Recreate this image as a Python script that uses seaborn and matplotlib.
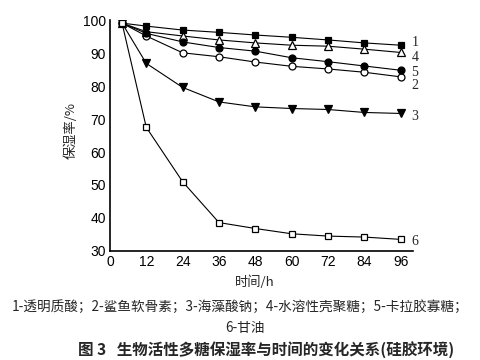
import matplotlib
matplotlib.use("Agg")
import matplotlib.pyplot as plt
import seaborn as sns
import pandas as pd

sns.set_theme(style="white")
plt.rcParams['font.family'] = ['Liberation Sans Narrow', 'Liberation Sans', 'Noto Sans CJK SC', 'DejaVu Sans']

hours = [4, 12, 24, 36, 48, 60, 72, 84, 96]
s1 = [99.1, 98.2, 97.0, 96.3, 95.5, 94.8, 94.0, 93.1, 92.4]
s2 = [99.1, 95.2, 90.1, 88.9, 87.3, 86.0, 85.2, 84.2, 82.8]
s3 = [99.1, 86.9, 79.6, 75.2, 73.7, 73.2, 72.9, 72.0, 71.7]
s4 = [99.1, 96.5, 95.2, 94.0, 93.1, 92.4, 92.1, 91.2, 90.2]
s5 = [99.1, 96.0, 93.4, 91.7, 90.6, 88.6, 87.4, 86.1, 84.8]
s6 = [99.1, 67.5, 51.0, 38.6, 36.8, 35.2, 34.5, 34.2, 33.5]
series_ids = ["1", "2", "3", "4", "5", "6"]
series_vals = [s1, s2, s3, s4, s5, s6]
end_label_y = [93.3, 80.3, 70.8, 88.8, 84.2, 33.0]
xticks = [0, 12, 24, 36, 48, 60, 72, 84, 96]
yticks = [30, 40, 50, 60, 70, 80, 90, 100]
legend_line1 = "1-透明质酸；2-鲨鱼软骨素；3-海藻酸钠；4-水溶性壳聚糖；5-卡拉胶寡糖；"
legend_line2 = "6-甘油"
caption = "图 3   生物活性多糖保湿率与时间的变化关系(硅胶环境)"
xlabel = "时间/h"
ylabel = "保湿率/%"

styles = {
    "1": dict(marker="s", mfc="black", ms=4.5),
    "2": dict(marker="o", mfc="white", ms=5),
    "3": dict(marker="v", mfc="black", ms=6),
    "4": dict(marker="^", mfc="white", ms=5.5),
    "5": dict(marker="o", mfc="black", ms=5),
    "6": dict(marker="s", mfc="white", ms=4),
}

fig = plt.figure(figsize=(4.8, 3.6), dpi=100)
ax = fig.add_axes([0.229, 0.303, 0.631, 0.641])

for sid, vals in zip(series_ids, series_vals):
    df = pd.DataFrame({"t": hours, "v": vals})
    st = styles[sid]
    sns.lineplot(data=df, x="t", y="v", ax=ax, color="black", linewidth=0.8,
                 marker=st["marker"], markersize=st["ms"], markerfacecolor=st["mfc"],
                 markeredgecolor="black", markeredgewidth=0.9)

for sid, ly in zip(series_ids, end_label_y):
    ax.text(99.5, ly, sid, fontsize=10, va="center", ha="left",
            family=['Liberation Serif', 'DejaVu Serif'], clip_on=False)

ax.set_xlim(0, 100)
ax.set_ylim(30, 100)
ax.set_xticks(xticks)
ax.set_yticks(yticks)
ax.tick_params(direction="in", length=4, width=1, labelsize=10, colors="black", pad=3)
for s in ["top", "right"]:
    ax.spines[s].set_visible(False)
for s in ["left", "bottom"]:
    ax.spines[s].set_color("black")
    ax.spines[s].set_linewidth(1.2)
ax.set_xlabel("")
ax.set_ylabel("")

cjk = ['Noto Sans CJK SC', 'DejaVu Sans']
fig.text(0.53, 1 - 282 / 360, xlabel, fontsize=9.5, ha="center", va="center", family=cjk)
fig.text(0.148, 1 - 130 / 360, ylabel, fontsize=9.5, ha="center", va="center", rotation=90, family=cjk)
fig.text(0.5, 1 - 307 / 360, legend_line1, fontsize=9.8, ha="center", va="center", family=cjk)
fig.text(0.51, 1 - 328 / 360, legend_line2, fontsize=9.8, ha="center", va="center", family=cjk)
fig.text(0.555, 1 - 350 / 360, caption, fontsize=11.2, ha="center", va="center",
         family=cjk, fontweight="bold")

fig.savefig("out.png", dpi=100, facecolor="white")
